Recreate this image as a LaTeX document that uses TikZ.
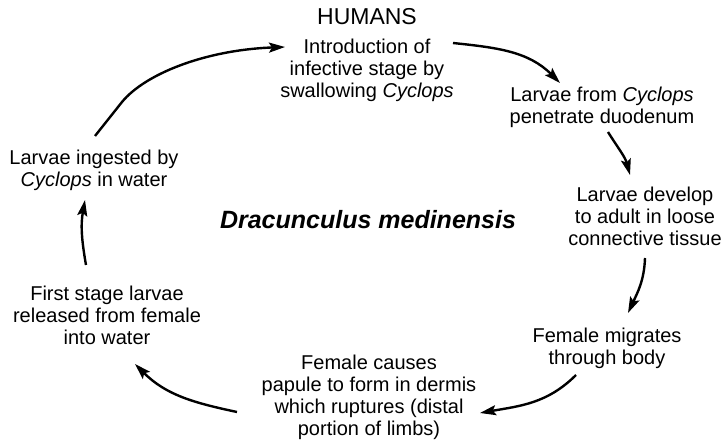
\documentclass[tikz,border=0pt]{standalone}
\usepackage{fontspec}
\setmainfont{Liberation Sans}
\usetikzlibrary{arrows.meta, positioning}
\tikzset{
  stage/.style={align=center, inner sep=0pt,
                font=\fontsize{20}{22}\selectfont},
  host/.style={inner sep=0pt, font=\fontsize{23}{26}\selectfont},
  species/.style={inner sep=0pt, font=\fontsize{25}{28}\selectfont\bfseries\itshape},
  cyc/.style={-{Stealth[length=16pt, width=10pt, inset=3pt]}, line width=2.4pt},
}

\begin{document}
\begin{tikzpicture}[x=1pt, y=1pt]
  \useasboundingbox (0,0) rectangle (728,441);

  % Host and title
  \node[host] (humans) at (367,424) {HUMANS};
  \node[species] (drac) at (368,221) {Dracunculus medinensis};

  % Stages round the cycle
  \node[stage, below=13pt of humans] (intro)
    {Introduction of\\infective stage by\\swallowing \textit{Cyclops}};
  \node[stage] (duoden)  at (602,334) {Larvae from \textit{Cyclops}\\penetrate duodenum};
  \node[stage] (develop) at (645,225) {Larvae develop\\to adult in loose\\connective tissue};
  \node[stage] (migrate) at (607,93)  {Female migrates\\through body};
  \node[stage] (papule)  at (369,44)
    {Female causes\\papule to form in dermis\\which ruptures (distal\\portion of limbs)};
  \node[stage] (release) at (107,126) {First stage larvae\\released from female\\into water};
  \node[stage] (ingest)  at (94,271)  {Larvae ingested by\\\textit{Cyclops} in water};

  % Arrow ends
  \coordinate (ingest-out)  at (95,305);
  \coordinate (ingest-bend) at (122,339);
  \coordinate (intro-in)    at (285,394);
  \coordinate (intro-out)   at (453,398);
  \coordinate (duoden-in)   at (560,358);
  \coordinate (duoden-out)  at (608,309);
  \coordinate (develop-in)  at (630,266);
  \coordinate (develop-out) at (645,183);
  \coordinate (migrate-in)  at (628,128);
  \coordinate (migrate-out) at (576,66);
  \coordinate (papule-in)   at (480,28);
  \coordinate (papule-out)  at (237,29);
  \coordinate (release-in)  at (135,77);
  \coordinate (release-out) at (86,176);
  \coordinate (ingest-in)   at (85,241);

  % Arrows
  \draw[cyc] (ingest-out) -- (ingest-bend)
    .. controls (145,367) and (205,391) .. (intro-in);
  \draw[cyc] (intro-out)   to[out=-6,  in=135] (duoden-in);
  \draw[cyc] (duoden-out)  to[out=-58, in=105] (develop-in);
  \draw[cyc] (develop-out) to[out=-92, in=65]  (migrate-in);
  \draw[cyc] (migrate-out) to[out=-135,in=10]  (papule-in);
  \draw[cyc] (papule-out)  to[out=168, in=-45] (release-in);
  \draw[cyc] (release-out) to[out=100, in=-100] (ingest-in);
\end{tikzpicture}
\end{document}
